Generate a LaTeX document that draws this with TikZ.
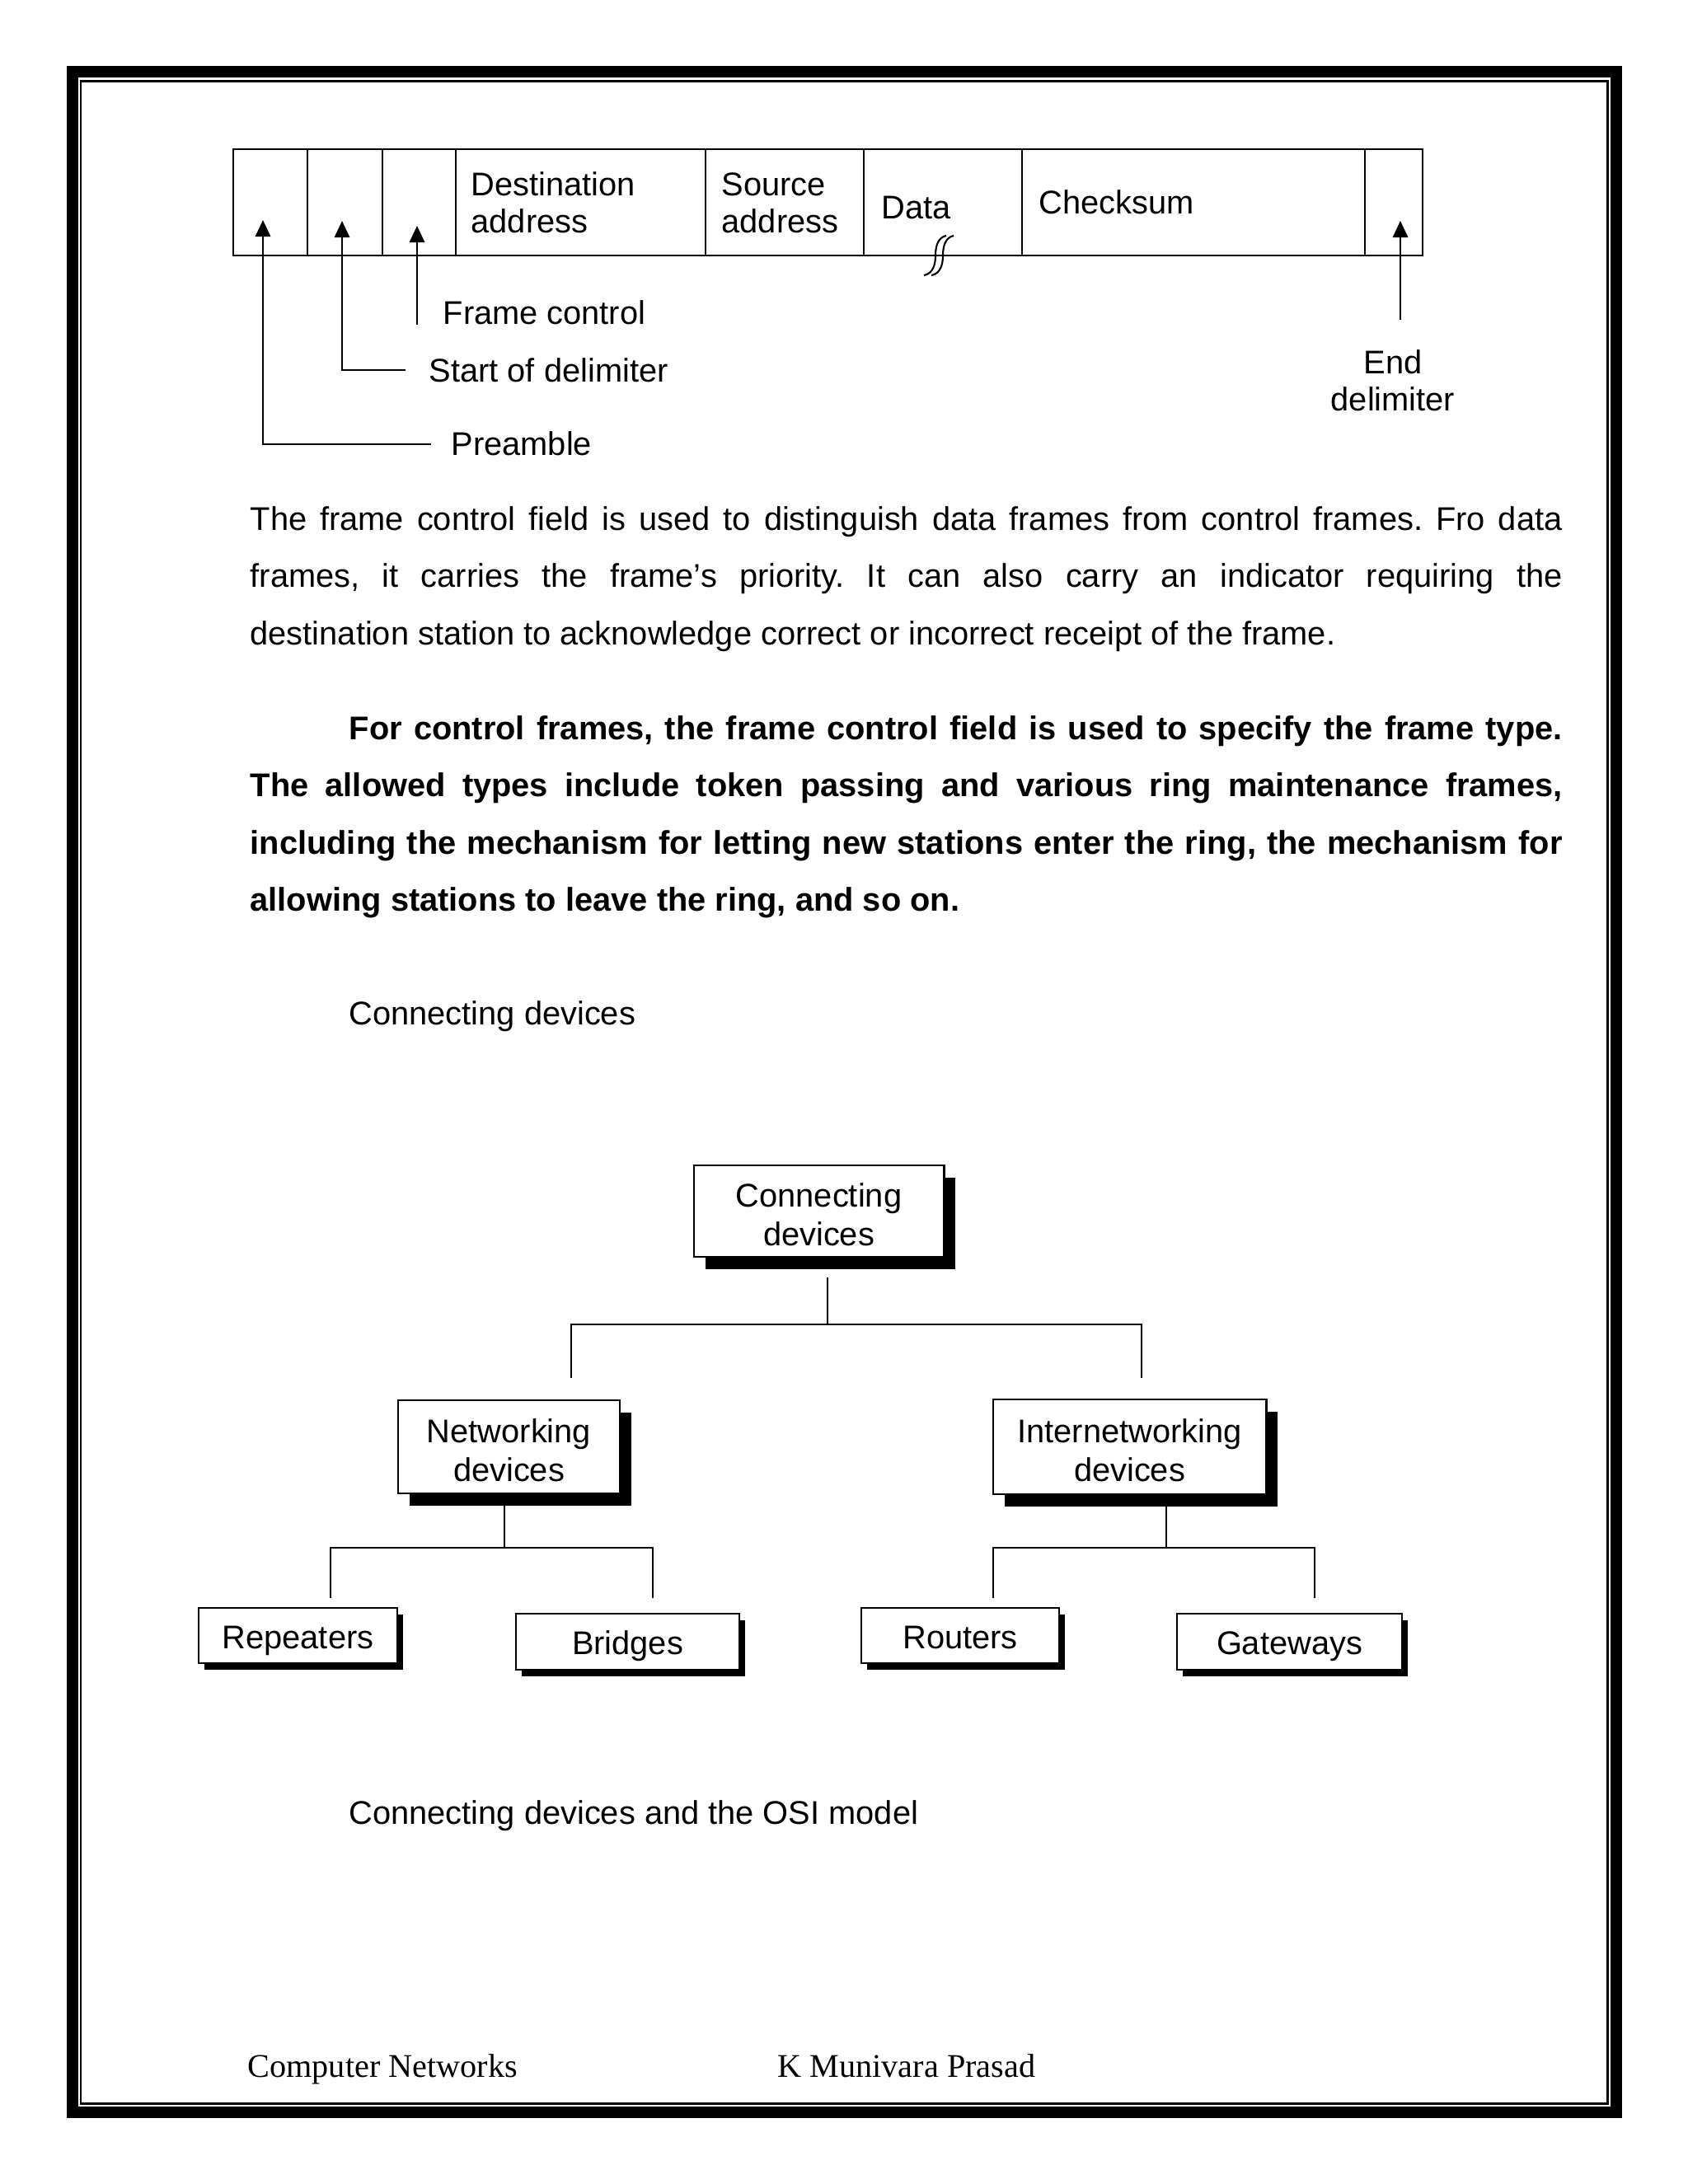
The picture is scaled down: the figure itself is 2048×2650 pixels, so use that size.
\documentclass[tikz,border=0pt]{standalone}
\usepackage{fontspec}
\setmainfont{Liberation Sans}
\newfontfamily\footfont{Liberation Serif}
\usepackage{tikz}
\usetikzlibrary{arrows.meta, calc, shadows}

\frenchspacing
\newcommand\lblfont{\fontsize{11.32pt}{12.8pt}\selectfont}
\newcommand\treefont{\fontsize{11.32pt}{13.1pt}\selectfont}
\newcommand\bodyfont{\fontsize{11.32pt}{19.77pt}\selectfont}

\tikzset{
    cellline/.style={line width=0.7pt},
    ptr/.style={line width=0.7pt, -{Triangle[length=5.7pt, width=5.2pt]}},
    lbl/.style={inner sep=0pt, anchor=base west, font=\lblfont},
    body/.style={inner sep=0pt, anchor=base west, text width=15.91cm, align=justify, font=\bodyfont},
    devbox/.style={draw, fill=white, line width=0.8pt, align=center, inner sep=0pt, font=\treefont},
    bigbox/.style={devbox, text height=0.83cm, text depth=0pt, drop shadow={shadow xshift=0.14cm, shadow yshift=-0.145cm, fill=black, opacity=1}},
    leafbox/.style={devbox, text height=0.31cm, text depth=0pt, drop shadow={shadow xshift=0.07cm, shadow yshift=-0.08cm, fill=black, opacity=1}},
    bar/.style={line width=0.6pt},
}

\begin{document}
\begin{tikzpicture}[x=0.01cm, y=-0.01cm]

    \useasboundingbox (0,0) rectangle (2048,2650);

    % Borde de pagina
    \draw[line width=3.98pt] (88,87) rectangle (1961,2563);
    \draw[line width=0.85pt] (98,98) rectangle (1950,2552);

    % Campos de la trama
    \draw[cellline] (283,181) rectangle (1726,310);
    \foreach \xd in {373,464,553,856,1048,1240,1656}{
        \draw[cellline] (\xd,181) -- (\xd,310);
    }
    \node[lbl, align=left] (dst) at (571,282) {Destination\\address};
    \node[lbl, align=left] (src) at (875,282) {Source\\address};
    \node[lbl] (dat) at (1069,265) {Data};
    \node[lbl] (chk) at (1260,259) {Checksum};

    % Marca de corte en Data
    \foreach \dx in {0,9}{
        \draw[line width=0.6pt] ({1148+\dx},286) .. controls ({1138+\dx},288) and ({1135+\dx},299) .. ({1135+\dx},310)
            .. controls ({1135+\dx},321) and ({1132+\dx},332) .. ({1121+\dx},334);
    }

    % Flechas y etiquetas
    \node[lbl] (fcLbl) at (537,393) {Frame control};
    \node[lbl] (sdLbl) at (520,463) {Start of delimiter};
    \node[lbl] (preLbl) at (547,552) {Preamble};
    \node[lbl, anchor=base, align=center] (edLbl) at (1690,498) {End\\delimiter};

    \coordinate (preTip) at (319,267);
    \coordinate (preEnd) at (523,539);
    \coordinate (sdTip) at (415,268);
    \coordinate (sdEnd) at (492,449);
    \coordinate (fcTip) at (506,274);
    \coordinate (fcEnd) at (506,394);
    \coordinate (edTip) at (1699,268);
    \coordinate (edEnd) at (1699,388);
    \draw[ptr] (preEnd) -| (preTip);
    \draw[ptr] (sdEnd) -| (sdTip);
    \draw[ptr] (fcEnd) -- (fcTip);
    \draw[ptr] (edEnd) -- (edTip);

    % Texto
    \node[body] (para1) at (303,643) {The frame control field is used to distinguish data frames from control frames. Fro data\linebreak
        frames, it carries the frame’s priority. It can also carry an indicator requiring the\linebreak
        destination station to acknowledge correct or incorrect receipt of the frame.};
    \node[body, font=\bodyfont\bfseries] (para2) at (303,897) {\hspace*{1.2cm}For control frames, the frame control field is used to specify the frame type.\linebreak
        The allowed types include token passing and various ring maintenance frames,\linebreak
        including the mechanism for letting new stations enter the ring, the mechanism for\linebreak
        allowing stations to leave the ring, and so on.};

    \node[lbl] (head1) at (423,1243) {Connecting devices};

    % Arbol de dispositivos
    \node[bigbox, minimum width=3.03cm, minimum height=1.11cm] (cdev) at (993.5,1469.5) {Connecting\\devices};
    \node[bigbox, minimum width=2.69cm, minimum height=1.13cm] (ndev) at (617.5,1755.5) {Networking\\devices};
    \node[bigbox, minimum width=3.31cm, minimum height=1.15cm] (idev) at (1370.5,1755.5) {Internetworking\\devices};
    \node[leafbox, minimum width=2.41cm, minimum height=0.67cm] (rep) at (361.5,1984.5) {Repeaters};
    \node[leafbox, minimum width=2.71cm, minimum height=0.68cm] (brg) at (761.5,1992) {Bridges};
    \node[leafbox, minimum width=2.40cm, minimum height=0.67cm] (rtr) at (1165,1984.5) {Routers};
    \node[leafbox, minimum width=2.73cm, minimum height=0.68cm] (gw) at (1564.5,1992) {Gateways};

    \coordinate (cdStem) at (1004,1550);
    \coordinate (cdBar) at (1004,1607);
    \coordinate (cdL) at (693,1672);
    \coordinate (cdR) at (1385,1672);
    \draw[bar] (cdStem) -- (cdBar);
    \draw[bar] (cdL) -- (cdL |- cdBar) -- (cdR |- cdBar) -- (cdR);

    \foreach \sx/\lx/\rx in {612/401/792, 1415/1205/1595}{
        \draw[bar] (\sx,1827) -- (\sx,1878);
        \draw[bar] (\lx,1939) -- (\lx,1878) -- (\rx,1878) -- (\rx,1939);
    }

    \node[lbl] (head2) at (423,2213) {Connecting devices and the OSI model};

    % Pie de pagina
    \node[inner sep=0pt, anchor=base west, font=\footfont\fontsize{11.43pt}{13pt}\selectfont] (footL) at (300,2520) {Computer Networks};
    \node[inner sep=0pt, anchor=base west, font=\footfont\fontsize{11.43pt}{13pt}\selectfont] (footR) at (943,2520) {K Munivara Prasad};

\end{tikzpicture}
\end{document}
